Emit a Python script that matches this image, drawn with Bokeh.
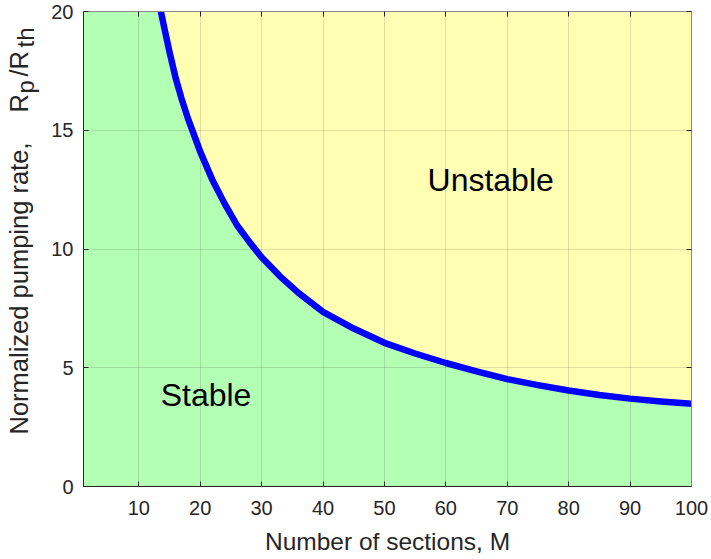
from bokeh.plotting import figure
from bokeh.layouts import row
from bokeh.models import Range1d, LinearAxis, FixedTicker, Label, CustomLabelingPolicy, ColumnDataSource
from bokeh.embed import file_html
from bokeh.resources import INLINE

# Stability boundary: normalized pumping rate vs number of sections
sections = [13.6, 14, 15, 16, 17, 18, 19, 20, 22, 24, 26, 28, 30, 33, 36, 40,
            45, 50, 55, 60, 65, 70, 75, 80, 85, 90, 95, 100]
rate = [20.0, 19.5, 18.3, 17.2, 16.3, 15.5, 14.8, 14.1, 12.9, 11.9, 11.0, 10.3,
        9.65, 8.85, 8.15, 7.35, 6.65, 6.05, 5.6, 5.2, 4.85, 4.52, 4.27, 4.04,
        3.85, 3.70, 3.58, 3.48]
x_ticks = [10, 20, 30, 40, 50, 60, 70, 80, 90, 100]
y_ticks = [0, 5, 10, 15, 20]
region_names = ["Stable", "Unstable"]
x_title = "Number of sections, M"

X0, X1, Y0, Y1 = 1, 100, 0, 20
W, H = 711, 559
STRIP = 44                      # width of the strip that holds the y title
LEFT, RIGHT, TOP, BOTTOM = 83, 20, 11, 73

FONT = "Liberation Sans"
AX = "#262626"
GREEN = "#B3FFB3"
YELLOW = "#FFFFB3"

p = figure(width=W - STRIP, height=H, x_range=Range1d(X0, X1), y_range=Range1d(Y0, Y1),
           output_backend="svg", toolbar_location=None,
           min_border_left=LEFT - STRIP, min_border_right=RIGHT,
           min_border_top=TOP, min_border_bottom=BOTTOM,
           background_fill_color=GREEN, border_fill_color="white",
           outline_line_color=None)

# unstable region above the boundary
fill = p.varea(x=sections, y1=rate, y2=[Y1] * len(sections), fill_color=YELLOW)
fill.level = "image"

# boundary curve
p.line(sections, rate, line_color="#0000FF", line_width=6.5, line_join="round")

# grid
for g, t in ((p.xgrid, x_ticks), (p.ygrid, y_ticks)):
    g.ticker = FixedTicker(ticks=t)
    g.grid_line_color = AX
    g.grid_line_alpha = 0.15

# box axes with inward ticks
p.add_layout(LinearAxis(), "above")
p.add_layout(LinearAxis(), "right")
for ax in p.xaxis:
    ax.ticker = FixedTicker(ticks=x_ticks)
for ax in p.yaxis:
    ax.ticker = FixedTicker(ticks=y_ticks)
for ax in p.xaxis + p.yaxis:
    ax.major_tick_in = 5
    ax.major_tick_out = 0
    ax.minor_tick_in = 0
    ax.minor_tick_out = 0
    ax.axis_line_color = AX
    ax.major_tick_line_color = AX
    ax.major_label_text_font = FONT
    ax.major_label_text_font_size = "20px"
    ax.major_label_text_color = AX
for ax in (p.above[0], p.right[0]):
    ax.major_label_policy = CustomLabelingPolicy(code="")
    ax.major_label_text_font_size = "0px"
    ax.major_label_standoff = 0
    ax.axis_line_color = "#8a8a8a"
p.below[0].major_label_standoff = 14
p.left[0].major_label_standoff = 10

xa = p.below[0]
xa.axis_label = x_title
xa.axis_label_text_font = FONT
xa.axis_label_text_font_size = "24.5px"
xa.axis_label_text_font_style = "normal"
xa.axis_label_text_color = AX
xa.axis_label_standoff = 10

# region names
p.add_layout(Label(x=67.3, y=12.9, text=region_names[1], text_font=FONT,
                   text_font_size="32px", text_color="black",
                   text_align="center", text_baseline="alphabetic"))
p.add_layout(Label(x=20.95, y=3.85, text=region_names[0], text_font=FONT,
                   text_font_size="32px", text_color="black",
                   text_align="center", text_baseline="alphabetic"))

# y title strip: its frame lines up with the plot frame;
# coordinates are pixels, y counted up from the bottom of the page
lab = figure(width=STRIP, height=H, x_range=Range1d(0, STRIP),
             y_range=Range1d(BOTTOM, H - TOP),
             output_backend="svg", toolbar_location=None,
             min_border_left=0, min_border_right=0, min_border_top=0, min_border_bottom=0,
             outline_line_color=None, border_fill_color="white",
             background_fill_color="white")
lab.axis.visible = False
lab.grid.visible = False

pieces = ColumnDataSource(dict(
    txt=["Normalized pumping rate,", "R", "p", "/R", "th"],
    x=[18, 18, 25, 18, 25],
    y=[H - 434, H - 112, H - 93, H - 76, H - 47],
    size=["25.5px", "25.5px", "24px", "25.5px", "24px"],
))
lab.text(x="x", y="y", text="txt", source=pieces, angle=1.5707963,
         text_font_size="size", text_color=AX, text_align="left",
         text_baseline="alphabetic", text_font={"value": FONT})

layout = row(lab, p, spacing=0)
open("out.html", "w").write(file_html(layout, INLINE))
